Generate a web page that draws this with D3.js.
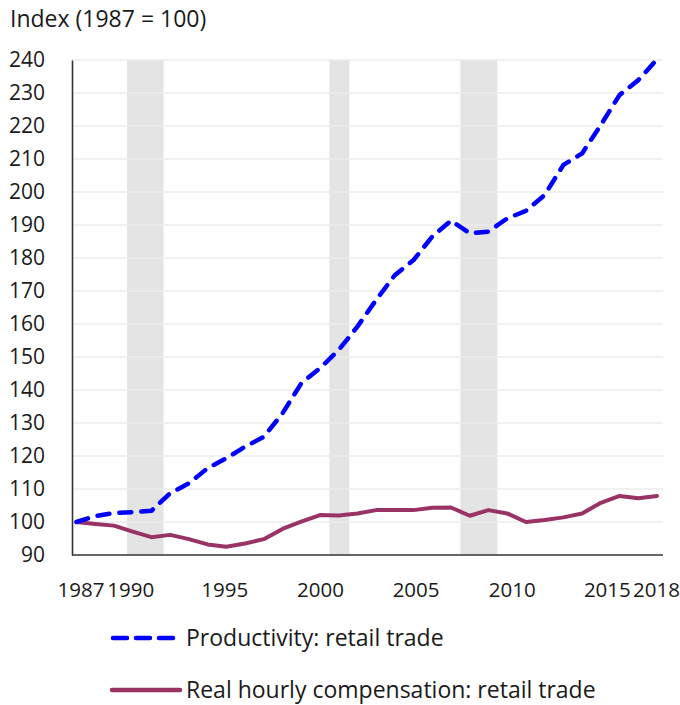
<!DOCTYPE html>
<html><head><meta charset="utf-8">
<script src="https://cdn.jsdelivr.net/npm/d3@7"></script>
<style>body{margin:0;background:#fff}svg{display:block}text{font-family:"Open Sans",sans-serif;fill:#1a1a1a}</style>
</head><body><svg id="c" width="680" height="705"></svg>
<script>
const years = d3.range(1987, 2019);
const productivity = [100,101.8,102.7,103.0,103.4,108.7,111.7,116.3,119.3,122.8,125.8,132.9,142.0,146.6,152.1,159.2,167.3,174.8,179.4,186.5,191.3,187.5,188.0,192.0,194.3,199.1,208.2,211.7,220.3,229.4,233.9,240.2];
const compensation = [100,99.4,98.9,97.1,95.4,96.1,94.8,93.2,92.5,93.5,94.8,97.9,100.1,102.1,102.0,102.6,103.6,103.6,103.6,104.3,104.4,101.9,103.6,102.6,100.0,100.6,101.4,102.6,105.8,107.9,107.2,107.9];
const recessions = [[1989.7,1991.65],[2000.5,2001.57],[2007.5,2009.47]];
const yTicks = d3.range(90, 241, 10);
const xTicks = [1987,1990,1995,2000,2005,2010,2015,2018];
const seriesNames = ["Productivity: retail trade","Real hourly compensation: retail trade"];

const svg = d3.select("#c");
const x = d3.scaleLinear().domain([1987,2018]).range([76.5,657]);
const y = d3.scaleLinear().domain([90,240]).range([555,60]);
const left = 72, right = 663;
const FS = 21;

svg.append("g").selectAll("rect").data(recessions).join("rect")
  .attr("x", d=>x(d[0])).attr("width", d=>x(d[1])-x(d[0]))
  .attr("y", y(240)).attr("height", y(90)-y(240)).attr("fill","#e4e4e4");

svg.append("g").selectAll("line").data(yTicks.filter(v=>v>90)).join("line")
  .attr("x1", left).attr("x2", right).attr("y1", d=>y(d)).attr("y2", d=>y(d))
  .attr("stroke","#ececec").attr("stroke-width",1.5);

const yAxis = svg.append("g").attr("transform",`translate(${left},0)`)
  .call(d3.axisLeft(y).tickValues(yTicks).tickSize(0).tickPadding(27));
yAxis.select(".domain").attr("stroke","#333").attr("stroke-width",1.6);
yAxis.selectAll("text").attr("font-size",FS).attr("font-family","Open Sans, sans-serif").attr("fill","#1a1a1a");

const xAxis = svg.append("g").attr("transform",`translate(0,555)`)
  .call(d3.axisBottom(x).tickValues(xTicks).tickFormat(d3.format("d")).tickSize(0).tickPadding(27));
xAxis.select(".domain").attr("d",`M${left},0H${right}`).attr("stroke","#333").attr("stroke-width",1.6);
xAxis.selectAll("text").attr("font-size",20.5).attr("font-family","Open Sans, sans-serif").attr("fill","#1a1a1a");
const xOff = {1987:4,1990:-2.5,1995:-2,2000:0,2005:2,2010:4.6,2015:6,2018:-1};
xAxis.selectAll(".tick text").attr("dx", d=>xOff[d]);

const line = d3.line().x((d,i)=>x(years[i])).y(d=>y(d));
svg.append("path").datum(compensation).attr("d",line).attr("fill","none")
  .attr("stroke","#993366").attr("stroke-width",4).attr("stroke-linejoin","round").attr("stroke-linecap","round");
svg.append("path").datum(productivity).attr("d",line).attr("fill","none")
  .attr("stroke","#0000ff").attr("stroke-width",4.5).attr("stroke-dasharray","12,10").attr("stroke-linecap","round").attr("stroke-linejoin","round");

svg.append("text").attr("x",10).attr("y",27).attr("font-size",23).text("Index (1987 = 100)");

const lg = svg.append("g");
lg.append("line").attr("x1",113).attr("x2",175).attr("y1",638).attr("y2",638)
  .attr("stroke","#0000ff").attr("stroke-width",4.5).attr("stroke-dasharray","14,9").attr("stroke-linecap","round");
lg.append("text").attr("x",186).attr("y",646).attr("font-size",23).text(seriesNames[0]);
lg.append("line").attr("x1",112).attr("x2",180).attr("y1",690).attr("y2",690)
  .attr("stroke","#993366").attr("stroke-width",4.5).attr("stroke-linecap","round");
lg.append("text").attr("x",186).attr("y",698).attr("font-size",23).text(seriesNames[1]);
</script></body></html>
